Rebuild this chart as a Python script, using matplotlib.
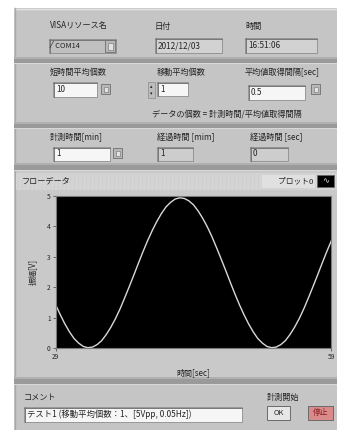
import matplotlib
matplotlib.use("Agg")
import matplotlib.pyplot as plt
from matplotlib.patches import Rectangle

plt.rcParams['font.family'] = ['Noto Sans CJK JP', 'DejaVu Sans']

# ---- data ----
time_sec = [29.0, 29.5, 30.0, 30.5, 31.0, 31.5, 32.0, 32.5, 33.0, 33.5,
            34.0, 34.5, 35.0, 35.5, 36.0, 36.5, 37.0, 37.5, 38.0, 38.5,
            39.0, 39.5, 40.0, 40.5, 41.0, 41.5, 42.0, 42.5, 43.0, 43.5,
            44.0, 44.5, 45.0, 45.5, 46.0, 46.5, 47.0, 47.5, 48.0, 48.5,
            49.0, 49.5, 50.0, 50.5, 51.0, 51.5, 52.0, 52.5, 53.0, 53.5,
            54.0, 54.5, 55.0, 55.5, 56.0, 56.5, 57.0, 57.5, 58.0, 58.5,
            59.0]
amplitude_v = [1.43, 1.10, 0.80, 0.54, 0.32, 0.17, 0.06, 0.02, 0.04, 0.12,
               0.25, 0.45, 0.69, 0.97, 1.29, 1.65, 2.02, 2.40, 2.79, 3.17,
               3.53, 3.86, 4.16, 4.42, 4.64, 4.79, 4.90, 4.94, 4.92, 4.84,
               4.71, 4.51, 4.27, 3.99, 3.67, 3.31, 2.94, 2.56, 2.17, 1.79,
               1.43, 1.10, 0.80, 0.54, 0.32, 0.17, 0.06, 0.02, 0.04, 0.12,
               0.25, 0.45, 0.69, 0.97, 1.29, 1.65, 2.02, 2.40, 2.79, 3.17,
               3.53]
y_ticks = [0, 1, 2, 3, 4, 5]
x_tick_labels = [29, 59]

W, H = 337, 430
fig = plt.figure(figsize=(W / 100, H / 100), dpi=100)
fig.patch.set_facecolor('white')

bg = fig.add_axes([0, 0, 1, 1])
bg.set_xlim(0, W)
bg.set_ylim(H, 0)
bg.axis('off')

TXT = '#242424'
PANEL = '#c5c5c5'
LBL = 5.9
FLD = 5.9


def rect(x0, y0, x1, y1, fc, ec='none', lw=0.6, z=1):
    bg.add_patch(Rectangle((x0, y0), x1 - x0, y1 - y0, facecolor=fc,
                           edgecolor=ec, linewidth=lw, zorder=z))


def txt(x, y, s, size=LBL, ha='left', color=TXT, **kw):
    bg.text(x, y, s, fontsize=size, ha=ha, va='center', color=color, zorder=5, **kw)


def field(x0, y0, x1, y1, s, fc='#f6f6f6', size=FLD):
    rect(x0, y0, x1, y1, fc, ec='#8c8c8c', lw=0.6, z=2)
    bg.plot([x0, x1], [y0 + 0.6, y0 + 0.6], color='#777777', lw=0.7, zorder=3)
    bg.plot([x0 + 0.6, x0 + 0.6], [y0, y1], color='#777777', lw=0.7, zorder=3)
    txt(x0 + 3, (y0 + y1) / 2, s, size=size)


def small_button(x0, y0, x1, y1):
    rect(x0, y0, x1, y1, '#b8b8b8', ec='#6e6e6e', lw=0.6, z=2)
    rect(x0 + 2.5, y0 + 2.5, x1 - 2.5, y1 - 2.5, '#e2e2e2', ec='#6e6e6e', lw=0.4, z=3)


def separator(y0, y1):
    rect(14, y0, W, y1, '#9a9a9a', z=1)
    rect(14, y0 - 2, W, y0, '#b0b0b0', z=1)
    rect(14, y1, W, y1 + 1, '#d8d8d8', z=1)


# panel
rect(14, 8, W, H, PANEL, z=0)
bg.plot([14, W], [8.5, 8.5], color='#e4e4e4', lw=1.0, zorder=1)
bg.plot([14.5, 14.5], [8, H], color='#a8a8a8', lw=1.0, zorder=1)

# section 1
txt(50, 25, 'VISAリソース名')
txt(155, 27, '日付')
txt(245, 27, '時間')
field(49, 39, 116, 53, '  COM14', fc='#c0c0c0', size=5.4)
txt(51, 46, '⁄', size=6)
small_button(105, 40, 115, 52)
field(155, 38, 222, 53, '2012/12/03', fc='#d2d2d2')
field(245, 38, 317, 53, '16:51:06', fc='#d2d2d2')
separator(59, 63)

# section 2
txt(50, 72, '短時間平均個数')
field(53, 82, 97, 97, '10')
small_button(101, 84, 110, 94)
txt(157, 72, '移動平均個数')
rect(148, 82, 155, 98, '#bdbdbd', ec='#8c8c8c', lw=0.5, z=2)
txt(151.5, 87, '▴', size=3.5, ha='center')
txt(151.5, 94, '▾', size=3.5, ha='center')
field(157, 82, 188, 96, '1')
txt(245, 73, '平均値取得間隔[sec]')
field(248, 85, 305, 100, '0.5')
small_button(311, 84, 320, 94)
txt(152, 114, 'データの個数 = 計測時間/平均値取得間隔')
separator(124, 128)

# section 3
txt(50, 137, '計測時間[min]')
field(53, 147, 110, 161, '1')
small_button(113, 148, 122, 158)
txt(157, 137, '経過時間 [mim]')
field(157, 147, 193, 161, '1', fc='#cdcdcd')
txt(250, 137, '経過時間 [sec]')
field(250, 147, 288, 161, '0', fc='#cdcdcd')
separator(165, 170)

# chart section
rect(14, 171, W, 378, '#c9c9c9', z=0.5)
rect(16, 173, W, 190, '#d4d4d4', z=1)
for gx in range(18, W, 4):
    bg.plot([gx, gx], [173, 190], color='#cccccc', lw=0.5, zorder=1.1)
txt(22, 181, 'フローデータ', size=LBL)
rect(262, 175, 315, 188, '#e0e0e0', z=1.5)
txt(313, 181, 'プロット0', size=5.6, ha='right')
rect(317, 175, 334, 187, 'black', ec='#666666', lw=0.5, z=2)
bg.text(325.5, 180.5, '∿', fontsize=6, ha='center', va='center', color='#dddddd',
        zorder=6, family=['DejaVu Sans'])
separator(379, 384)

# bottom section
txt(24, 397, 'コメント')
field(24, 407, 242, 422, 'テスト1 (移動平均個数：1、[5Vpp, 0.05Hz])', size=6.0)
txt(267, 397, '計測開始')
rect(267, 406, 290, 420, '#e6e6e6', ec='#6a6a6a', lw=0.7, z=2)
txt(278.5, 413, 'OK', size=5.4, ha='center')
rect(308, 406, 333, 420, '#d98a8a', ec='#6a6a6a', lw=0.7, z=2)
txt(320.5, 413, '停止', size=5.6, ha='center', color='#8a1f1f')

# ---- chart axes ----
px0, px1 = 55.7, 331.3
py0, py1 = 196.0, 348.3
ax = fig.add_axes([px0 / W, (H - py1) / H, (px1 - px0) / W, (py1 - py0) / H])
ax.set_facecolor('black')
ax.plot(time_sec, amplitude_v, color='#d9d9d9', lw=1.0)
ax.set_xlim(min(x_tick_labels), max(x_tick_labels))
ax.set_ylim(0, 5)
ax.set_yticks(y_ticks)
ax.set_yticklabels([str(v) for v in y_ticks])
ax.set_xticks(x_tick_labels)
ax.set_xticklabels([str(v) for v in x_tick_labels])
ax.tick_params(axis='both', length=2, width=0.6, color='#555555',
               labelsize=4.8, labelcolor=TXT, pad=1.5)
for s in ax.spines.values():
    s.set_color('#7a7a7a')
    s.set_linewidth(0.8)
ax.set_ylabel('振幅[V]', fontsize=5.8, color=TXT, labelpad=7)
ax.set_xlabel('時間[sec]', fontsize=5.8, color=TXT, labelpad=5)

fig.savefig('out.png', dpi=100, facecolor=fig.get_facecolor())
